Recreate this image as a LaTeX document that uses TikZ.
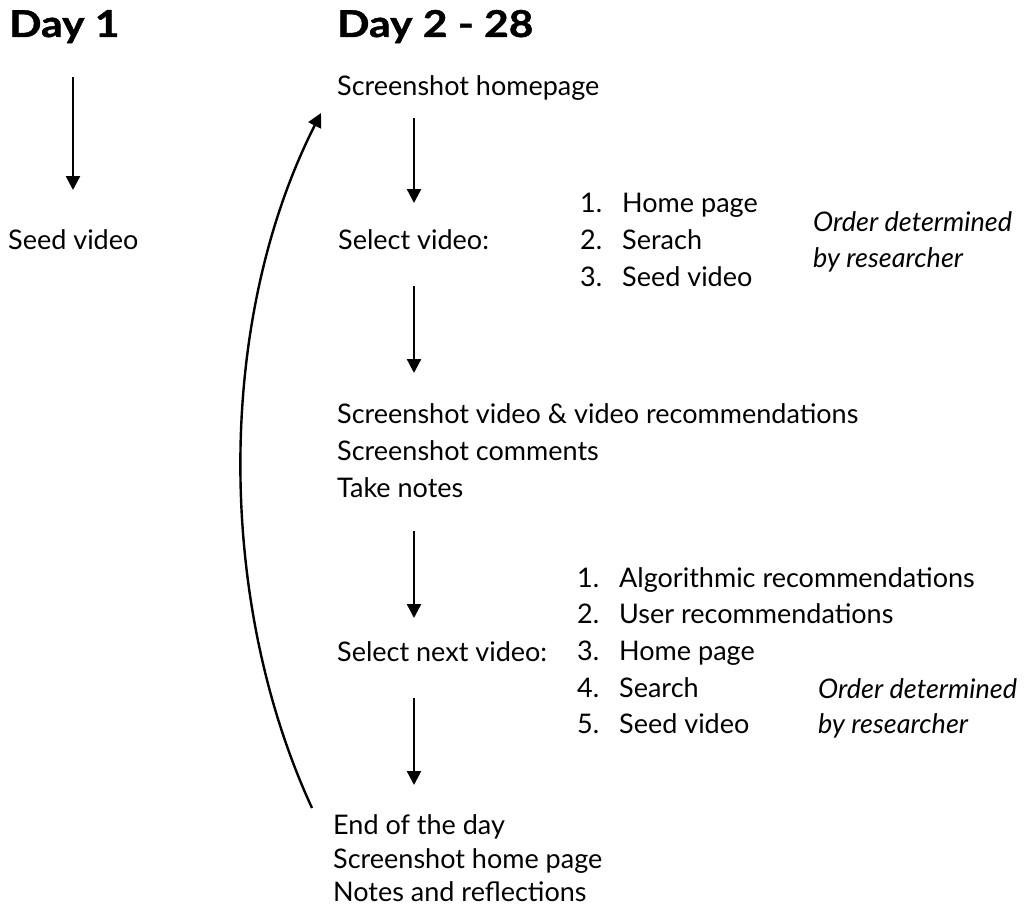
\documentclass[tikz,border=0pt]{standalone}
\usepackage{fontspec}
\setmainfont{Lato}
\newfontfamily\hdfont[FakeStretch=1.15,BoldFeatures={FakeBold=1.2}]{Lato}
\usetikzlibrary{arrows.meta}
\tikzset{
  txt/.style={anchor=base west, inner sep=0pt, font=\fontsize{27}{32}\selectfont},
  hd/.style={anchor=base west, inner sep=0pt, font=\hdfont\fontsize{37}{44}\selectfont\bfseries},
  itx/.style={anchor=base west, inner sep=0pt, font=\fontsize{27}{32}\selectfont\itshape},
  flow/.style={line width=2.4pt, -{Triangle[width=14pt,length=14pt]}},
}
\begin{document}
\begin{tikzpicture}[x=1pt,y=-1pt]
\useasboundingbox (0,0) rectangle (1024,907);
% headings
\node[hd] (d1) at (9,37) {Day 1};
\node[hd] (d2) at (337,37) {Day 2 - 28};
% day 1
\node[txt] (seed) at (8,249) {Seed video};
\coordinate (a0s) at (73,77);
\coordinate (a0e) at (73,190);
\draw[flow] (a0s) -- (a0e);
% day 2-28
\node[txt] (shp) at (337,95) {Screenshot homepage};
\node[txt] (sel) at (338,249) {Select video:};
\node[txt] (l1n1) at (580,212) {1.};
\node[txt] (l1t1) at (622,212) {Home page};
\node[txt] (l1n2) at (580,249) {2.};
\node[txt] (l1t2) at (622,249) {Serach};
\node[txt] (l1n3) at (580,286) {3.};
\node[txt] (l1t3) at (622,286) {Seed video};
\node[itx] (o1a) at (813,231) {Order determined};
\node[itx] (o1b) at (813,267) {by researcher};
\node[txt] (b1) at (337,423) {Screenshot video \& video recommendations};
\node[txt] (b2) at (337,460) {Screenshot comments};
\node[txt] (b3) at (337,497) {Take notes};
\node[txt] (seln) at (337,661) {Select next video:};
\node[txt] (l2n1) at (577,587) {1.};
\node[txt] (l2t1) at (619,587) {Algorithmic recommendations};
\node[txt] (l2n2) at (577,623) {2.};
\node[txt] (l2t2) at (619,623) {User recommendations};
\node[txt] (l2n3) at (577,660) {3.};
\node[txt] (l2t3) at (619,660) {Home page};
\node[txt] (l2n4) at (577,697) {4.};
\node[txt] (l2t4) at (619,697) {Search};
\node[txt] (l2n5) at (577,733) {5.};
\node[txt] (l2t5) at (619,733) {Seed video};
\node[itx] (o2a) at (818,698) {Order determined};
\node[itx] (o2b) at (818,733) {by researcher};
\node[txt] (e1) at (333,834) {End of the day};
\node[txt] (e2) at (333,868) {Screenshot home page};
\node[txt] (e3) at (333,901) {Notes and reflections};
% vertical arrows
\coordinate (a1s) at (414,118); \coordinate (a1e) at (414,203);
\coordinate (a2s) at (414,286); \coordinate (a2e) at (414,373);
\coordinate (a3s) at (414,531); \coordinate (a3e) at (414,618);
\coordinate (a4s) at (414,698); \coordinate (a4e) at (414,785);
\draw[flow] (a1s) -- (a1e);
\draw[flow] (a2s) -- (a2e);
\draw[flow] (a3s) -- (a3e);
\draw[flow] (a4s) -- (a4e);
% loop back
\coordinate (cs) at (312,808);
\coordinate (ce) at (321,113);
\draw[flow] (cs) .. controls (216,600) and (216,320) .. (ce);
\end{tikzpicture}
\end{document}
